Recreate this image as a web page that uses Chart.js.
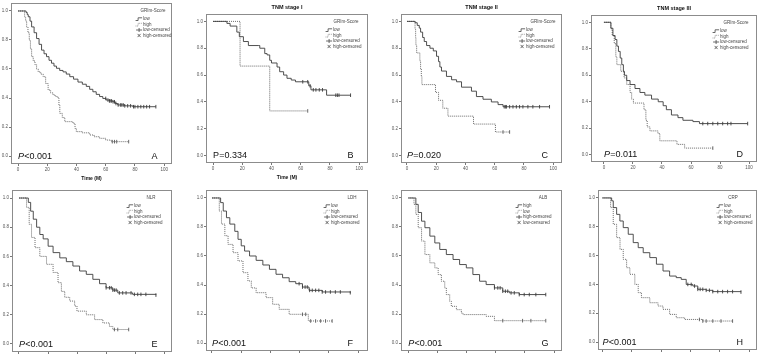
<!DOCTYPE html>
<html><head><meta charset="utf-8">
<script src="https://cdn.jsdelivr.net/npm/chart.js@4.4.1/dist/chart.umd.min.js"></script>
<style>
html,body{margin:0;padding:0;background:#fff}
body{width:763px;height:357px;overflow:hidden;position:relative}
canvas{position:absolute}
</style>
</head><body>
<script>
// ---------- tick labels ----------
const xTicks = [0, 20, 40, 60, 80, 100];
const yTicks = [0, 0.2, 0.4, 0.6, 0.8, 1.0];

// ---------- panel texts ----------
const panelLetters = ['A','B','C','D','E','F','G','H'];
const panelTitles = ['', 'TNM stage I', 'TNM stage II', 'TNM stage III', '', '', '', ''];
const legendTitles = ['GRIm-Score','GRIm-Score','GRIm-Score','GRIm-Score','NLR','LDH','ALB','CRP'];
const pLabels = ['<0.001','=0.334','=0.020','=0.011','<0.001','<0.001','<0.001','<0.001'];
const legendStd = ['low','high','low-censored','high-censored'];
const legendALB = ['high','low','high-censored','low-censored'];

// ---------- survival curves: [time (M), survival] ----------
const A_solid = [[0,1],[4.8,1],[5.5,0.99],[6.3,0.975],[7,0.96],[8.2,0.93],[9.3,0.89],[11,0.85],[12.7,0.81],[14.4,0.77],[16.1,0.73],[17.8,0.705],[19.5,0.685],[21.2,0.66],[22.9,0.64],[24.6,0.62],[26.3,0.605],[28.5,0.59],[30.8,0.58],[33,0.565],[35.4,0.547],[38,0.53],[41,0.51],[44,0.495],[46.7,0.48],[49,0.46],[51.2,0.443],[53.5,0.425],[55.8,0.41],[58,0.397],[60.3,0.386],[62.5,0.38],[64.8,0.374],[66.5,0.362],[68.2,0.352],[73,0.346],[78.5,0.34],[94.3,0.34]];
const A_dot = [[0,1],[3.7,1],[4.5,0.96],[5.2,0.93],[5.9,0.89],[6.8,0.85],[7.7,0.80],[8.5,0.74],[9.3,0.685],[10.4,0.655],[11.6,0.63],[12.7,0.6],[13.8,0.58],[15.5,0.565],[17.2,0.547],[18.9,0.5],[20.6,0.455],[22.3,0.435],[24,0.42],[25.7,0.41],[27.4,0.398],[28,0.35],[28.6,0.294],[30.3,0.265],[32,0.237],[37.6,0.225],[39,0.19],[39.9,0.168],[44,0.16],[49,0.145],[52,0.133],[55.8,0.122],[60,0.11],[63.7,0.099],[75.7,0.099]];
const A_solidCens = [60,61.5,62.5,63,64,65,66,67,68.5,70,71,72,73,75,77,79,80,82,84,86,88,90,94.3];
const A_dotCens = [64.5,66,67.5,75.7];

const B_solid = [[0,1],[7.2,1],[9.5,0.985],[11.7,0.965],[16.3,0.92],[18,0.886],[20.8,0.85],[24.2,0.82],[30.9,0.82],[32,0.8],[35.4,0.76],[37,0.75],[38.8,0.71],[40,0.69],[43.8,0.66],[45.6,0.625],[48.3,0.6],[50.6,0.576],[53.5,0.563],[56.4,0.55],[65.5,0.52],[67,0.49],[77.7,0.45],[94.1,0.45]];
const B_dot = [[0,1],[18.5,0.667],[38.8,0.333],[64.8,0.333]];
const B_solidCens = [61.4,64.8,66.4,68.6,70.4,72.7,74.9,84,85.1,86.2,94.1];
const B_dotCens = [64.8];

const C_solid = [[0,1],[4.3,1],[5.5,0.99],[7,0.97],[8.4,0.95],[9.3,0.92],[10.7,0.88],[11.8,0.85],[13.4,0.82],[15.7,0.80],[18,0.78],[20.2,0.74],[21.6,0.70],[22.5,0.66],[23.6,0.63],[27,0.59],[30.5,0.565],[33.9,0.55],[37.3,0.51],[44.1,0.48],[47.5,0.44],[52,0.42],[57.7,0.40],[62.3,0.38],[65.7,0.364],[97.5,0.364]];
const C_dot = [[0,1],[5.5,0.941],[5.9,0.882],[6.1,0.824],[6.6,0.765],[8.8,0.706],[9.3,0.647],[9.8,0.588],[10.2,0.529],[19.5,0.471],[21.6,0.412],[24.5,0.353],[28,0.294],[45.5,0.235],[60.5,0.176],[70.2,0.176]];
const C_solidCens = [66.5,67.5,68,70.2,72.5,74.8,77,79.3,82.7,86.1,90.7,97.5];
const C_dotCens = [65.7,70.2];

const D_solid = [[0,1],[4.3,1],[4.8,0.955],[6.2,0.90],[7.7,0.87],[8.9,0.82],[10,0.78],[11.2,0.73],[12.3,0.68],[13.4,0.63],[14.1,0.60],[15.7,0.56],[18,0.53],[21.4,0.50],[24.8,0.47],[28.2,0.45],[32.8,0.42],[37.4,0.40],[40.8,0.37],[43,0.34],[46.5,0.30],[51,0.28],[54.4,0.26],[61.3,0.25],[65.8,0.235],[99,0.235]];
const D_dot = [[0,1],[3.9,1],[4.8,0.95],[5.7,0.90],[7.1,0.84],[8.2,0.74],[8.9,0.68],[11.6,0.63],[13.9,0.58],[15.7,0.53],[18,0.47],[19.1,0.42],[20.3,0.39],[27.6,0.34],[28.9,0.26],[29.8,0.21],[31.7,0.18],[37.2,0.16],[38.5,0.105],[50.3,0.078],[55.6,0.05],[75,0.05]];
const D_solidCens = [68.1,71.5,75,78.4,81.8,85.2,87.5,99];
const D_dotCens = [75];

const E_solid = [[0,1],[4.8,1],[6.4,0.97],[8,0.91],[9.8,0.855],[12.1,0.80],[14.3,0.75],[16.6,0.72],[20,0.67],[23.4,0.626],[28,0.59],[32.5,0.564],[37,0.534],[41.6,0.50],[46.2,0.477],[50.7,0.443],[55.3,0.413],[59.8,0.385],[64.4,0.369],[67.8,0.35],[78,0.34],[94,0.335]];
const E_dot = [[0,1],[3.4,1],[5.2,0.936],[7,0.82],[8.6,0.73],[11,0.66],[14.3,0.60],[18.9,0.546],[23.4,0.49],[26.8,0.42],[29.1,0.36],[31.4,0.32],[34.8,0.294],[38.2,0.26],[39.8,0.225],[46.2,0.20],[51.9,0.167],[57.6,0.144],[62.1,0.12],[64.4,0.099],[75.3,0.099]];
const E_solidCens = [59.8,62.1,63.3,64.4,65.5,66.7,68.9,71.2,73.5,76.9,79.2,81.5,83.7,87.1,94];
const E_dotCens = [65.5,67.8,75.3];

const F_solid = [[0,1],[4.3,1],[5.9,0.968],[7.7,0.91],[9.9,0.864],[12.2,0.82],[15.6,0.77],[17.8,0.715],[20,0.67],[22.3,0.634],[25.7,0.60],[30.2,0.57],[34.8,0.538],[39.3,0.508],[43.8,0.474],[48.3,0.45],[52.8,0.423],[57.3,0.409],[61.9,0.386],[66.4,0.363],[75.4,0.352],[94.6,0.347]];
const F_dot = [[0,1],[3.2,1],[5,0.91],[6.5,0.82],[8.8,0.74],[11,0.68],[14.4,0.623],[17.8,0.566],[21.2,0.485],[24.6,0.428],[26.9,0.38],[30.2,0.347],[37,0.313],[41.5,0.267],[46,0.232],[52.8,0.198],[65.9,0.152],[82.2,0.152]];
const F_solidCens = [59.6,61.9,63.7,65.2,66.8,68.6,70.9,73.1,75.4,77.7,81,84.4,87.8,94.6];
const F_dotCens = [61.9,64.1,67.5,70.9,74.3,77.7,82.2];

const G_solid = [[0,1],[3.4,1],[5.2,0.956],[6.8,0.90],[9.1,0.84],[11.4,0.795],[14.8,0.737],[18.2,0.69],[21.6,0.645],[26.1,0.61],[30.7,0.576],[35.2,0.541],[39.8,0.518],[44.3,0.472],[48.9,0.426],[53.4,0.403],[59.1,0.38],[64.8,0.357],[69.3,0.346],[76.1,0.334],[94.3,0.334]];
const G_dot = [[0,1],[2.3,1],[3.9,0.956],[5.2,0.887],[6.8,0.795],[9.1,0.703],[11.4,0.61],[14.8,0.553],[18.2,0.518],[20.5,0.472],[22.7,0.426],[25,0.38],[26.1,0.334],[28.4,0.288],[29.5,0.253],[33,0.23],[36.4,0.207],[37.5,0.196],[53.4,0.184],[59.1,0.154],[94.3,0.154]];
const G_solidCens = [59.1,61.4,63,64.8,66.6,68.2,70.5,72.7,76.1,79.5,83,87.5,94.3];
const G_dotCens = [64.8,78.4,84.1,94.3];

const H_solid = [[0,1],[5.2,1],[6.3,0.98],[7.4,0.933],[9.7,0.886],[11.9,0.84],[14.2,0.794],[17.6,0.748],[21,0.69],[24.4,0.655],[27.8,0.62],[32.3,0.586],[36.8,0.54],[41.3,0.493],[45.8,0.458],[50.3,0.447],[53.7,0.435],[57.1,0.40],[61.6,0.389],[65,0.366],[70.7,0.359],[75.2,0.35],[94.4,0.347]];
const H_dot = [[0,1],[4.1,1],[5.6,0.933],[7.4,0.817],[9.7,0.725],[12,0.643],[14.2,0.574],[16.5,0.516],[18.7,0.47],[22.1,0.40],[24.4,0.343],[26.6,0.308],[32.3,0.273],[37.9,0.25],[41.3,0.227],[45.8,0.192],[50.3,0.169],[56,0.157],[68.4,0.146],[88.7,0.146]];
const H_solidCens = [58.2,60.5,62.8,65,66.6,68.4,70.7,72.9,75.2,78.6,81.9,85.3,88.7,94.4];
const H_dotCens = [66.1,68.4,70.7,75.2,80.8,88.7];

// ---------- layout (page pixels of each plot box) ----------
const layout = [
  {L:11, T:3,   R:173, B:164, xmin:-4.8, xmax:105.4, lgX:29, lgT:19, timeLabel:true,  italicP:true,  xLabels:true},
  {L:206,T:14,  R:369, B:163, xmin:-4.8, xmax:106.1, lgX:35, lgT:22, timeLabel:true,  italicP:false, xLabels:true},
  {L:401,T:14,  R:563, B:163, xmin:-4.1, xmax:106.1, lgX:36, lgT:19, timeLabel:false, italicP:true,  xLabels:true},
  {L:591,T:15,  R:758, B:162, xmin:-8.9, xmax:105.5, lgX:37, lgT:21, timeLabel:false, italicP:true,  xLabels:true},
  {L:12, T:190, R:173, B:352, xmin:-4.8, xmax:105.1, lgX:38, lgT:21, timeLabel:false, italicP:true,  xLabels:false},
  {L:206,T:190, R:369, B:351, xmin:-4.1, xmax:106.8, lgX:37, lgT:16, timeLabel:false, italicP:true,  xLabels:false},
  {L:401,T:190, R:563, B:351, xmin:-5.0, xmax:105.5, lgX:39, lgT:19, timeLabel:false, italicP:true,  xLabels:false},
  {L:598,T:190, R:758, B:350, xmin:-3.0, xmax:105.4, lgX:33, lgT:24, timeLabel:false, italicP:true,  xLabels:false}
];
const curves = [
  [A_solid, A_dot, A_solidCens, A_dotCens],
  [B_solid, B_dot, B_solidCens, B_dotCens],
  [C_solid, C_dot, C_solidCens, C_dotCens],
  [D_solid, D_dot, D_solidCens, D_dotCens],
  [E_solid, E_dot, E_solidCens, E_dotCens],
  [F_solid, F_dot, F_solidCens, F_dotCens],
  [G_solid, G_dot, G_solidCens, G_dotCens],
  [H_solid, H_dot, H_solidCens, H_dotCens]
];

const SOLID = '#3c3c3c', DOT = '#5a5a5a', FRAME = '#8c8c8c', TXT = '#444444';
const FONT = '"Liberation Sans", Arial, sans-serif';

function survAt(curve, t) {
  let s = curve[0][1];
  for (const [ti, si] of curve) { if (ti <= t) s = si; }
  return s;
}
const toXY = c => c.map(([x, y]) => ({x, y}));

const deco = {
  id: 'deco',
  afterDraw(chart, args, p) {
    const {ctx, chartArea: a} = chart;
    const xs = chart.scales.x;
    ctx.save();
    // frame
    ctx.strokeStyle = FRAME; ctx.lineWidth = 1;
    ctx.strokeRect(Math.round(a.left) + 0.5, Math.round(a.top) + 0.5,
                   Math.round(a.right - a.left) - 1, Math.round(a.bottom - a.top) - 1);
    // title
    if (p.title) {
      ctx.fillStyle = '#111'; ctx.font = 'bold 5.5px ' + FONT;
      ctx.textAlign = 'center'; ctx.textBaseline = 'middle';
      ctx.fillText(p.title, (a.left + a.right) / 2, a.top - 7);
    }
    // time label
    if (p.timeLabel) {
      ctx.fillStyle = '#111'; ctx.font = 'bold 5px ' + FONT;
      ctx.textAlign = 'center'; ctx.textBaseline = 'middle';
      ctx.fillText('Time (M)', (a.left + a.right) / 2, a.bottom + 14.5);
    }
    // legend
    ctx.fillStyle = TXT; ctx.font = '4.5px ' + FONT; ctx.textBaseline = 'middle';
    ctx.textAlign = 'center';
    ctx.fillText(p.legTitle, a.right - p.lgT, a.top + 8);
    ctx.textAlign = 'left';
    const rows = [16, 21.5, 27, 32.5];
    p.legLabels.forEach((lab, i) => {
      const y = a.top + rows[i], tx = a.right - p.lgX;
      ctx.fillStyle = TXT;
      ctx.fillText(lab, tx, y);
      ctx.lineWidth = 0.8;
      ctx.strokeStyle = i === 1 ? '#777' : '#444';
      ctx.setLineDash(i === 1 ? [0.8, 0.8] : []);
      ctx.beginPath();
      const ix = tx - 7.5;
      if (i < 2) {
        ctx.moveTo(ix, y + 1.5); ctx.lineTo(ix + 2.5, y + 1.5);
        ctx.lineTo(ix + 2.5, y - 1.2); ctx.lineTo(ix + 6.5, y - 1.2);
      } else if (i === 2) {
        ctx.moveTo(ix + 0.5, y); ctx.lineTo(ix + 6.5, y);
        ctx.moveTo(ix + 3.5, y - 2); ctx.lineTo(ix + 3.5, y + 2);
      } else {
        ctx.moveTo(ix + 2, y - 1.6); ctx.lineTo(ix + 5, y + 1.6);
        ctx.moveTo(ix + 2, y + 1.6); ctx.lineTo(ix + 5, y - 1.6);
      }
      ctx.stroke();
      ctx.setLineDash([]);
    });
    // P value
    const x0 = xs.getPixelForValue(0);
    const by = a.bottom - 5.5;
    ctx.fillStyle = '#111'; ctx.textBaseline = 'alphabetic'; ctx.textAlign = 'left';
    ctx.font = (p.italicP ? 'italic ' : '') + '9px ' + FONT;
    ctx.fillText('P', x0, by);
    const w = ctx.measureText('P').width;
    ctx.font = '9px ' + FONT;
    ctx.fillText(p.pText, x0 + w + 0.3, by);
    // letter
    ctx.fillText(p.letter, a.right - 20.5, by);
    ctx.restore();
  }
};

function makePanel(i) {
  const g = layout[i];
  const [solid, dot, sc, dc] = curves[i];
  const padL = 12, padT = 12, padR = 4, padB = 22;
  const W = g.R - g.L + padL + padR, H = g.B - g.T + padT + padB;
  const cv = document.createElement('canvas');
  cv.width = W; cv.height = H;
  cv.style.left = (g.L - padL) + 'px'; cv.style.top = (g.T - padT) + 'px';
  cv.style.width = W + 'px'; cv.style.height = H + 'px';
  document.body.appendChild(cv);
  const tickFont = {size: 4.5, family: FONT};
  const grid = {display: true, drawOnChartArea: false, drawTicks: true, tickLength: 2, color: '#777', lineWidth: 1};
  new Chart(cv, {
    type: 'line',
    data: {
      datasets: [
        {data: toXY(solid), stepped: 'before', borderColor: SOLID, borderWidth: 0.9, pointRadius: 0, fill: false},
        {data: toXY(dot), stepped: 'before', borderColor: DOT, borderWidth: 0.9, borderDash: [1, 1], pointRadius: 0, fill: false},
        {type: 'scatter', data: sc.map(t => ({x: t, y: survAt(solid, t)})), showLine: false,
         pointStyle: 'line', rotation: 90, pointRadius: 1.8, borderColor: SOLID, pointBorderColor: SOLID, borderWidth: 0.9},
        {type: 'scatter', data: dc.map(t => ({x: t, y: survAt(dot, t)})), showLine: false,
         pointStyle: 'line', rotation: 90, pointRadius: 1.8, borderColor: DOT, pointBorderColor: DOT, borderWidth: 0.9}
      ]
    },
    options: {
      responsive: false, animation: false, devicePixelRatio: 1,
      layout: {padding: {left: 0, top: padT, right: padR, bottom: 0}},
      plugins: {
        legend: {display: false}, tooltip: {enabled: false},
        deco: {
          title: panelTitles[i], legTitle: legendTitles[i],
          legLabels: i === 6 ? legendALB : legendStd,
          pText: pLabels[i], letter: panelLetters[i],
          lgX: g.lgX, lgT: g.lgT, timeLabel: g.timeLabel, italicP: g.italicP
        }
      },
      scales: {
        x: {
          type: 'linear', min: g.xmin, max: g.xmax,
          afterFit: s => { s.height = padB; },
          afterBuildTicks: s => { s.ticks = xTicks.map(v => ({value: v})); },
          grid, border: {display: false},
          ticks: {font: tickFont, color: g.xLabels ? '#555' : 'rgba(0,0,0,0)', padding: 1, maxRotation: 0, autoSkip: false,
                  callback: v => String(v)}
        },
        y: {
          type: 'linear', min: -0.055, max: 1.055,
          afterFit: s => { s.width = padL; },
          afterBuildTicks: s => { s.ticks = yTicks.map(v => ({value: v})); },
          grid, border: {display: false},
          ticks: {font: tickFont, color: '#555', padding: 1, autoSkip: false,
                  callback: v => Number(v).toFixed(1)}
        }
      }
    },
    plugins: [deco]
  });
}
for (let i = 0; i < 8; i++) makePanel(i);
</script>
</body></html>
